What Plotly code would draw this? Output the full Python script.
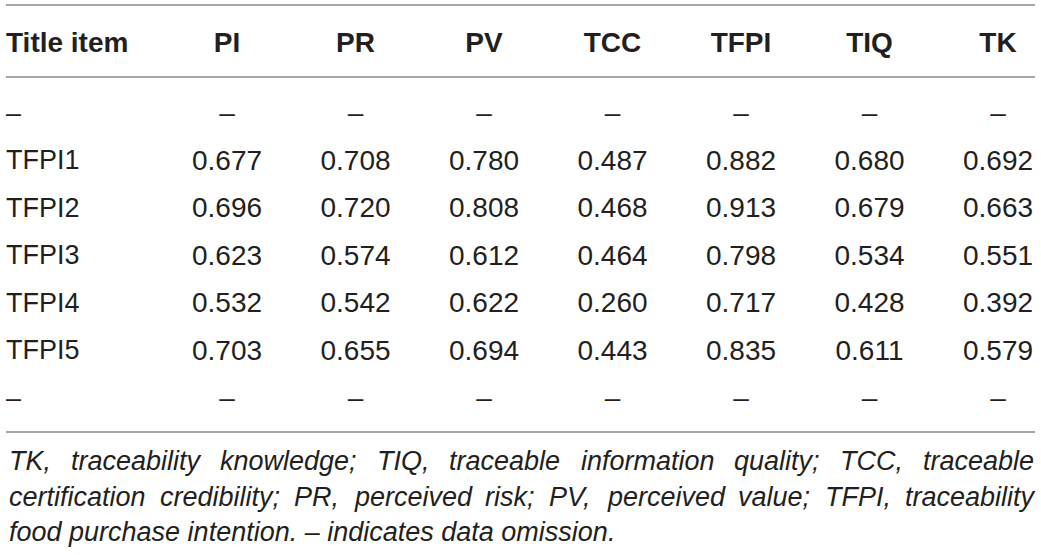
import plotly.graph_objects as go

# table data
columns = ["PI", "PR", "PV", "TCC", "TFPI", "TIQ", "TK"]
row_labels = ["–", "TFPI1", "TFPI2", "TFPI3", "TFPI4", "TFPI5", "–"]
PI = [None, 0.677, 0.696, 0.623, 0.532, 0.703, None]
PR = [None, 0.708, 0.720, 0.574, 0.542, 0.655, None]
PV = [None, 0.780, 0.808, 0.612, 0.622, 0.694, None]
TCC = [None, 0.487, 0.468, 0.464, 0.260, 0.443, None]
TFPI = [None, 0.882, 0.913, 0.798, 0.717, 0.835, None]
TIQ = [None, 0.680, 0.679, 0.534, 0.428, 0.611, None]
TK = [None, 0.692, 0.663, 0.551, 0.392, 0.579, None]
series = [PI, PR, PV, TCC, TFPI, TIQ, TK]

note_line1 = ["TK,", "traceability", "knowledge;", "TIQ,", "traceable",
              "information", "quality;", "TCC,", "traceable"]
note_line2 = ["certification", "credibility;", "PR,", "perceived", "risk;",
              "PV,", "perceived", "value;", "TFPI,", "traceability"]
note_line3 = "food purchase intention. – indicates data omission."

W, H = 1041, 555
FONT = "Liberation Sans"
INK = "#231f20"
FS = 27

# pixel geometry of the grid (layout only)
col0_px, col_step_px = 227, 128.5
row0_px, row_step_px = 115, 47.5
header_px = 45
label_left_px = 6
note_left, note_right = 8, 1033

# arial/helvetica advance widths (per 1000 em) for justifying the note
ADV = dict(zip("abcdefghijklmnopqrstuvwxyz",
               [556, 556, 500, 556, 556, 278, 556, 556, 222, 222, 500, 222, 833,
                556, 556, 556, 556, 333, 500, 278, 556, 500, 722, 500, 500, 500]))
ADV.update({",": 278, ";": 278, ".": 278, "T": 611, "K": 667, "I": 278, "Q": 778,
            "C": 722, "P": 667, "R": 722, "V": 667, "F": 611})


def text_w(s, size):
    return sum(ADV.get(ch, 556) for ch in s) * size / 1000


def justify(words, size):
    widths = [text_w(w, size) for w in words]
    gap = (note_right - note_left - sum(widths)) / (len(words) - 1)
    xs, cur = [], note_left
    for w in widths:
        xs.append(cur)
        cur += w + gap
    return xs


def xi(px):
    return (px - col0_px) / col_step_px + 1


def yi(px):
    return (px - row0_px) / row_step_px + 1


def fmt(v):
    return "–" if v is None else f"{v:.3f}"


fig = go.Figure()

# header row
fig.add_trace(go.Scatter(
    x=list(range(1, len(columns) + 1)), y=[yi(header_px)] * len(columns),
    mode="text", text=columns, textposition="middle center",
    textfont=dict(family=FONT, size=28, color=INK, weight="bold"),
    hoverinfo="skip", showlegend=False))
fig.add_trace(go.Scatter(
    x=[xi(label_left_px)], y=[yi(header_px)], mode="text",
    text=["Title item"], textposition="middle right",
    textfont=dict(family=FONT, size=28, color=INK, weight="bold"),
    hoverinfo="skip", showlegend=False))

# row labels
fig.add_trace(go.Scatter(
    x=[xi(label_left_px)] * len(row_labels),
    y=list(range(1, len(row_labels) + 1)),
    mode="text", text=row_labels, textposition="middle right",
    textfont=dict(family=FONT, size=FS, color=INK),
    hoverinfo="skip", showlegend=False))

# value cells
for ci, vals in enumerate(series, start=1):
    fig.add_trace(go.Scatter(
        x=[ci] * len(vals), y=list(range(1, len(vals) + 1)),
        mode="text", text=[fmt(v) for v in vals], textposition="middle center",
        textfont=dict(family=FONT, size=28, color=INK),
        hoverinfo="skip", showlegend=False))

# rules
for ypx in (5, 77, 432):
    fig.add_shape(type="line", xref="paper", yref="paper",
                  x0=6 / W, x1=1035 / W, y0=1 - ypx / H, y1=1 - ypx / H,
                  line=dict(color="#a7a7a7", width=2))

# footnote, first two lines justified word by word
note_font = dict(family=FONT, size=FS, color=INK, style="italic")
for words, ypx in ((note_line1, 461), (note_line2, 497)):
    for w, px in zip(words, justify(words, FS)):
        fig.add_annotation(text=w, x=px / W, y=1 - ypx / H, xref="paper", yref="paper",
                           xanchor="left", yanchor="middle", showarrow=False,
                           borderpad=0, font=note_font)
fig.add_annotation(text=note_line3, x=note_left / W, y=1 - 532 / H, xref="paper",
                   yref="paper", xanchor="left", yanchor="middle", showarrow=False,
                   borderpad=0, font=note_font)

fig.update_layout(
    width=W, height=H, margin=dict(l=0, r=0, t=0, b=0),
    paper_bgcolor="white", plot_bgcolor="white",
    xaxis=dict(range=[xi(0), xi(W)], visible=False, fixedrange=True),
    yaxis=dict(range=[yi(H), yi(0)], visible=False, fixedrange=True),
)

fig.write_html("out.html", config={"displayModeBar": False},
               post_script="document.body.style.margin = '0';")
